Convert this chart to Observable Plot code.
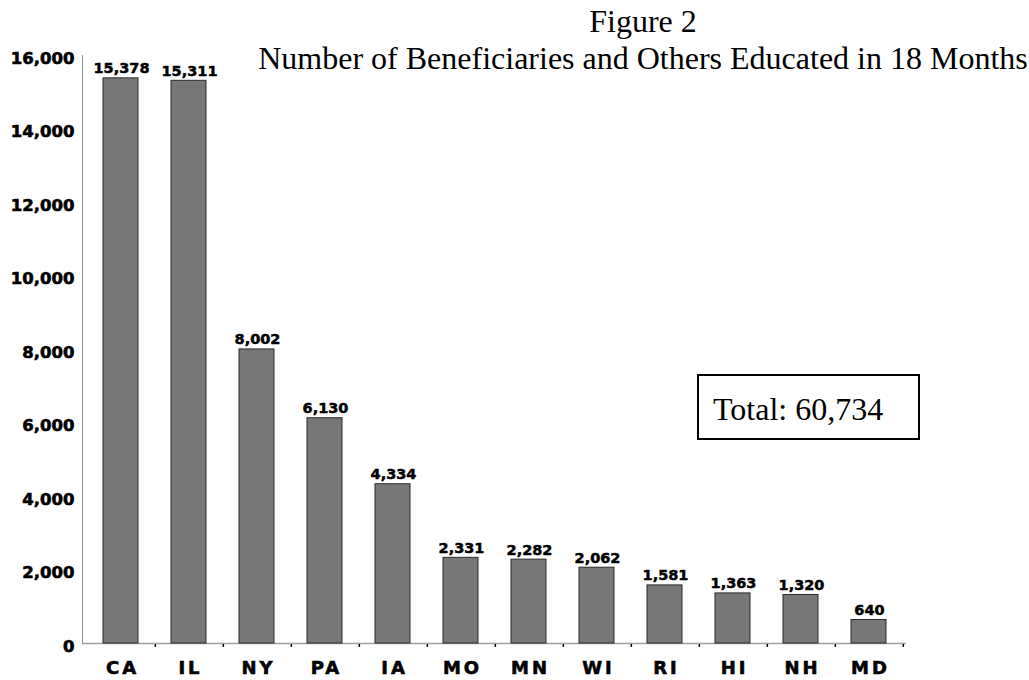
<!DOCTYPE html>
<html>
<head>
<meta charset="utf-8">
<script src="https://cdn.jsdelivr.net/npm/d3@7"></script>
<script src="https://cdn.jsdelivr.net/npm/@observablehq/plot@0.6"></script>
<style>
  html, body { margin: 0; padding: 0; background: #fff; }
  #wrap { position: relative; width: 1029px; height: 680px; overflow: hidden; }
  .serif { font-family: "Liberation Serif", "DejaVu Serif", serif; color: #000; position: absolute; white-space: nowrap; font-size: 32px; }
  #title { left: 258px; width: 770px; top: 3px; line-height: 37px; text-align: center; }
  #box { position: absolute; left: 697px; top: 374px; width: 223px; height: 66px; border: 2px solid #000; box-sizing: border-box; }
  #total { left: 713px; top: 393px; line-height: 32px; }
  #chart { position: absolute; left: 0; top: 0; }
</style>
</head>
<body>
<div id="wrap">
  <div id="chart"></div>
  <div id="title" class="serif">Figure 2<br>Number of Beneficiaries and Others Educated in 18 Months</div>
  <div id="box"></div>
  <div id="total" class="serif"></div>
</div>
<script>
const states = ["CA", "IL", "NY", "PA", "IA", "MO", "MN", "WI", "RI", "HI", "NH", "MD"];
const educated = [15378, 15311, 8002, 6130, 4334, 2331, 2282, 2062, 1581, 1363, 1320, 640];
const yTicks = [0, 2000, 4000, 6000, 8000, 10000, 12000, 14000, 16000];

const data = states.map((s, i) => ({state: s, value: educated[i]}));
const fmt = d3.format(",");
const total = d3.sum(educated);
document.getElementById("total").textContent = "Total: " + fmt(total);

const W = 1029, H = 680, mL = 82, mR = 123, mT = 55, mB = 37;
const step = (W - mL - mR) / states.length;

const chart = Plot.plot({
  width: W,
  height: H,
  marginLeft: mL,
  marginRight: mR,
  marginTop: mT,
  marginBottom: mB,
  style: {fontFamily: "'DejaVu Sans', sans-serif", background: "transparent"},
  x: {domain: states, paddingInner: 0.49, paddingOuter: 0.245, label: null},
  y: {domain: [0, 16000], label: null},
  marks: [
    Plot.frame({anchor: "left", stroke: "#909090"}),
    Plot.ruleY([0], {stroke: "#a0a0a0", strokeWidth: 1.5}),
    Plot.ruleX(states, {x: d => d, dx: step / 2, y1: 0, y2: 0, insetTop: 1, insetBottom: -4, stroke: "#000", strokeWidth: 1.5}),
    Plot.barY(data, {x: "state", y: "value", fill: "#777777", stroke: "#2a2a2a", strokeWidth: 1}),
    Plot.text(data, {x: "state", y: "value", text: d => fmt(d.value), lineAnchor: "bottom", dy: -5, dx: 0.5, fontSize: 14.5, fontWeight: "bold", fill: "#000", stroke: "#000", strokeWidth: 0.5, style: "letter-spacing: 0.6px"}),
    Plot.axisY({ticks: yTicks, tickFormat: fmt, tickSize: 0, tickPadding: 8, fontSize: 16.5, fontWeight: "bold", dy: 3, fill: "#000"}),
    Plot.axisX({tickSize: 0, tickPadding: 18, fontSize: 18, fontWeight: "bold", label: null, dx: 1.5, fill: "#000"})
  ]
});
document.getElementById("chart").appendChild(chart);
// heavier look for axis labels and letter-spacing for category labels
d3.select(chart).selectAll("g[aria-label='y-axis tick label'] text, g[aria-label='x-axis tick label'] text")
  .style("stroke", "#000").style("stroke-width", "0.6px").style("paint-order", "stroke");
d3.select(chart).selectAll("g[aria-label='x-axis tick label'] text").style("letter-spacing", "3px");
</script>
</body>
</html>
